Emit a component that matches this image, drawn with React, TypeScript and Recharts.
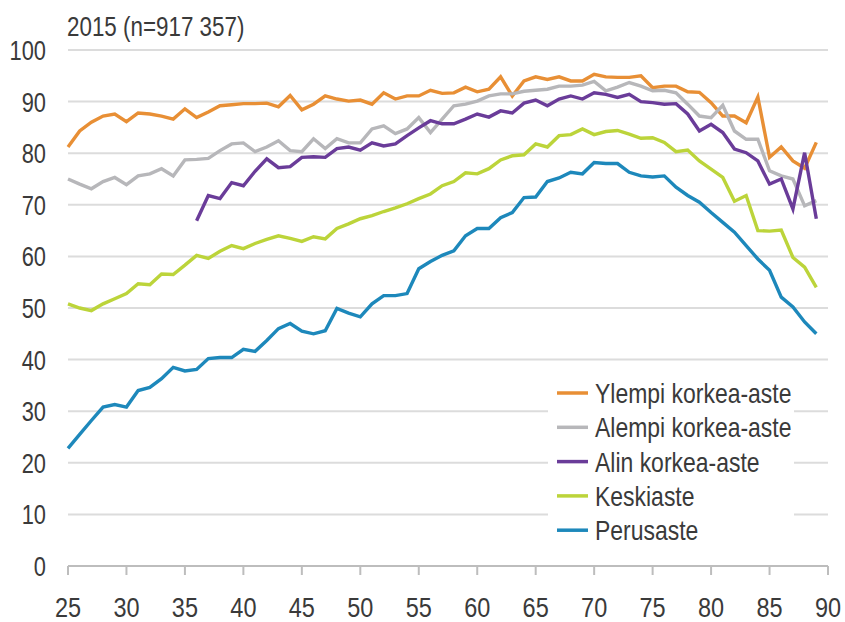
import React from "react";
import { LineChart, Line, XAxis, YAxis, CartesianGrid } from "recharts";

const ages: number[] = [
  25, 26, 27, 28, 29, 30, 31, 32, 33, 34, 35, 36, 37, 38, 39, 40, 41, 42, 43, 44,
  45, 46, 47, 48, 49, 50, 51, 52, 53, 54, 55, 56, 57, 58, 59, 60, 61, 62, 63, 64,
  65, 66, 67, 68, 69, 70, 71, 72, 73, 74, 75, 76, 77, 78, 79, 80, 81, 82, 83, 84,
  85, 86, 87, 88, 89,
];

const ylempi: number[] = [
  81.2, 84.3, 86, 87.2, 87.6, 86.1, 87.8, 87.6, 87.2, 86.6,
  88.6, 86.9, 88, 89.2, 89.4, 89.6, 89.6, 89.7, 89, 91.2,
  88.4, 89.5, 91.1, 90.5, 90.1, 90.3, 89.5, 91.7, 90.5, 91.1,
  91.1, 92.2, 91.6, 91.7, 92.8, 91.9, 92.4, 94.8, 91.1, 94,
  94.8, 94.3, 94.8, 94, 94, 95.3, 94.8, 94.7, 94.7, 95,
  92.7, 93, 93, 91.9, 91.8, 89.8, 87.2, 87.2, 85.9, 90.9,
  79.2, 81.2, 78.5, 77.1, 82.1,
];

const alempi: number[] = [
  75, 74, 73.1, 74.5, 75.3, 73.9, 75.6, 76, 77, 75.6,
  78.7, 78.8, 79, 80.5, 81.8, 82, 80.3, 81.2, 82.4, 80.5,
  80.3, 82.8, 80.9, 82.8, 82, 82, 84.7, 85.3, 83.8, 84.7,
  86.9, 84, 86.6, 89.2, 89.5, 90.1, 91.1, 91.5, 91.5, 92,
  92.2, 92.4, 93, 93, 93.2, 93.9, 92.1, 92.8, 93.7, 93,
  92.1, 92.2, 91.7, 89.5, 87.2, 86.9, 89.3, 84.3, 82.7, 82.7,
  76.6, 75.6, 75, 69.8, 70.8,
];

const alin: (number | null)[] = [
  null, null, null, null, null, null, null, null, null, null,
  null, 66.9, 71.8, 71.2, 74.3, 73.7, 76.5, 78.9, 77.2, 77.4,
  79.2, 79.3, 79.2, 80.9, 81.2, 80.6, 82, 81.4, 81.8, 83.4,
  84.9, 86.3, 85.7, 85.7, 86.6, 87.6, 87, 88.2, 87.8, 89.7,
  90.3, 89.2, 90.5, 91.1, 90.5, 91.7, 91.4, 90.8, 91.4, 90,
  89.8, 89.5, 89.6, 87.6, 84.3, 85.6, 84, 80.8, 80.1, 78.5,
  74, 75, 69.2, 80.1, 67.3,
];

const keski: number[] = [
  50.8, 50, 49.5, 50.8, 51.8, 52.8, 54.7, 54.5, 56.6, 56.5,
  58.3, 60.2, 59.6, 61, 62.1, 61.5, 62.5, 63.3, 64, 63.5,
  62.9, 63.8, 63.4, 65.4, 66.3, 67.3, 67.9, 68.7, 69.4, 70.2,
  71.2, 72.1, 73.7, 74.5, 76.2, 76, 77, 78.7, 79.5, 79.7,
  81.8, 81.2, 83.4, 83.6, 84.7, 83.6, 84.2, 84.4, 83.7, 82.9,
  83, 82.1, 80.3, 80.6, 78.5, 76.9, 75.3, 70.7, 71.8, 65,
  64.9, 65.1, 59.8, 57.9, 54,
];

const perus: number[] = [
  22.8, 25.5, 28.2, 30.8, 31.3, 30.8, 34, 34.6, 36.3, 38.5,
  37.8, 38.1, 40.2, 40.4, 40.4, 42, 41.6, 43.7, 46, 47,
  45.5, 45, 45.6, 49.9, 49, 48.3, 50.8, 52.4, 52.4, 52.8,
  57.6, 59, 60.2, 61.1, 64, 65.4, 65.4, 67.5, 68.5, 71.4,
  71.5, 74.5, 75.2, 76.3, 76, 78.2, 78, 78, 76.3, 75.6,
  75.4, 75.6, 73.4, 71.8, 70.5, 68.5, 66.6, 64.7, 62.1, 59.5,
  57.3, 52.1, 50.2, 47.3, 45,
];

const xTicks: number[] = [25, 30, 35, 40, 45, 50, 55, 60, 65, 70, 75, 80, 85, 90];
const yTicks: number[] = [0, 10, 20, 30, 40, 50, 60, 70, 80, 90, 100];
const title = "2015 (n=917 357)";

const seriesNames = {
  ylempi: "Ylempi korkea-aste",
  alempi: "Alempi korkea-aste",
  alin: "Alin korkea-aste",
  keski: "Keskiaste",
  perus: "Perusaste",
};

const colors = {
  ylempi: "#e88f35",
  alempi: "#b7b7ba",
  alin: "#6a3c99",
  keski: "#bcd43a",
  perus: "#1d88bb",
};

const seriesKeys: (keyof typeof seriesNames)[] = ["ylempi", "alempi", "alin", "keski", "perus"];

const data = ages.map((age, i) => ({
  age,
  ylempi: ylempi[i],
  alempi: alempi[i],
  alin: alin[i],
  keski: keski[i],
  perus: perus[i],
}));

const FONT = "'Liberation Sans', Arial, Helvetica, sans-serif";
const TEXT = "#3a3a3a";

const XTick = (props: any) => {
  const { x, payload } = props;
  return (
    <text
      transform={`translate(${x},617) scale(0.84,1)`}
      textAnchor="middle"
      fontSize={28}
      fontFamily={FONT}
      fill={TEXT}
    >
      {payload.value}
    </text>
  );
};

const YTick = (props: any) => {
  const { y, payload } = props;
  return (
    <text
      transform={`translate(46,${y + 10}) scale(0.78,1)`}
      textAnchor="end"
      fontSize={28}
      fontFamily={FONT}
      fill={TEXT}
    >
      {payload.value}
    </text>
  );
};

export default function App() {
  return (
    <div style={{ position: "fixed", left: 0, top: 0, width: 845, height: 622, background: "#fff" }}>
      <LineChart
        width={845}
        height={622}
        data={data}
        margin={{ top: 50, right: 17, bottom: 0, left: 0 }}
      >
        <CartesianGrid horizontal vertical={false} stroke="#dcdcdc" strokeWidth={2} />
        <XAxis
          dataKey="age"
          type="number"
          domain={[25, 90]}
          ticks={xTicks}
          interval={0}
          height={56}
          axisLine={{ stroke: "#bdbdbd", strokeWidth: 2 }}
          tickLine={{ stroke: "#bdbdbd", strokeWidth: 2 }}
          tickSize={9}
          tick={<XTick />}
        />
        <YAxis
          type="number"
          domain={[0, 100]}
          ticks={yTicks}
          interval={0}
          width={68}
          axisLine={false}
          tickLine={false}
          tick={<YTick />}
        />
        {seriesKeys.map((k) => (
          <Line
            key={k}
            type="linear"
            dataKey={k}
            name={seriesNames[k]}
            stroke={colors[k]}
            strokeWidth={3.4}
            dot={false}
            activeDot={false}
            connectNulls={false}
            isAnimationActive={false}
          />
        ))}
      </LineChart>
      <svg
        width={400}
        height={48}
        style={{ position: "absolute", left: 0, top: 0 }}
      >
        <text
          transform={`translate(67,36) scale(0.8,1)`}
          fontSize={28}
          fontFamily={FONT}
          fill={TEXT}
        >
          {title}
        </text>
      </svg>
      <div
        style={{
          position: "absolute",
          left: 548,
          top: 375,
          width: 246,
          height: 172,
          background: "#fff",
        }}
      >
        <svg width={246} height={172}>
          {seriesKeys.map((k, i) => {
            const cy = 18 + 34.3 * i;
            return (
              <g key={k}>
                <line x1={9} x2={40} y1={cy} y2={cy} stroke={colors[k]} strokeWidth={3.5} />
                <text
                  transform={`translate(47,${cy + 10}) scale(0.82,1)`}
                  fontSize={28}
                  fontFamily={FONT}
                  fill={TEXT}
                >
                  {seriesNames[k]}
                </text>
              </g>
            );
          })}
        </svg>
      </div>
    </div>
  );
}
